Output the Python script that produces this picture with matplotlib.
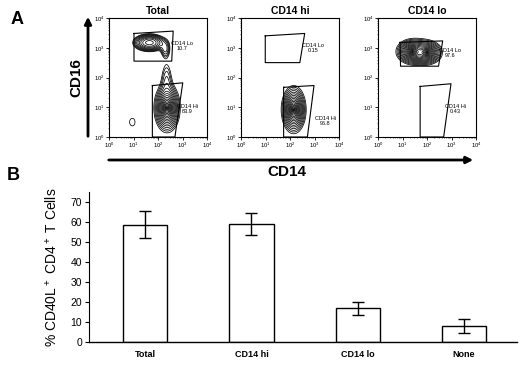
import numpy as np
import matplotlib
matplotlib.use('Agg')
import matplotlib.pyplot as plt

plt.rcParams['font.family'] = ['Liberation Sans', 'DejaVu Sans']
plt.rcParams['mathtext.fontset'] = 'custom'
plt.rcParams['mathtext.rm'] = 'Liberation Sans'
plt.rcParams['mathtext.default'] = 'regular'

# ---- panel A data (all positions in decades, log10 of fluorescence) ----
titles = ['Total', 'CD14 hi', 'CD14 lo']

# gates: CD14 Lo (upper) and CD14 Hi (lower)
lo_gate_x = [[1.02, 2.62, 2.56, 1.02], [0.99, 2.60, 2.40, 0.99], [0.90, 2.64, 2.47, 0.92]]
lo_gate_y = [[3.48, 3.56, 2.55, 2.55], [3.40, 3.48, 2.50, 2.50], [3.18, 3.23, 2.38, 2.38]]
hi_gate_x = [[1.77, 3.01, 2.69, 1.77], [1.74, 2.98, 2.71, 1.74], [1.72, 2.98, 2.68, 1.72]]
hi_gate_y = [[1.73, 1.82, 0.0, 0.0], [1.67, 1.73, 0.0, 0.0], [1.70, 1.79, 0.0, 0.0]]

lo_pct = ['10.7', '0.15', '97.6']
hi_pct = ['83.9', '96.8', '0.43']
lo_label_xy = [(2.98, 3.07), (2.95, 3.00), (2.95, 2.81)]
hi_label_xy = [(3.20, 0.93), (3.44, 0.55), (3.16, 0.93)]

# cell populations: centre x, centre y, spread x, spread y, weight, shape exponent
pop_total = [(2.37, 0.98, 0.09, 0.14, 2.0, 0.8),
             (2.35, 1.95, 0.20, 0.60, 0.05, 2.0),
             (1.65, 3.17, 0.45, 0.20, 0.30, 2.0),
             (2.30, 2.95, 0.17, 0.25, 0.08, 2.0),
             (0.95, 0.50, 0.30, 0.35, 0.034, 2.0)]
pop_hi = [(2.15, 0.92, 0.085, 0.135, 2.0, 0.8)]
pop_lo = [(1.40, 2.87, 0.11, 0.07, 2.0, 0.8),
          (2.00, 2.84, 0.11, 0.07, 1.6, 0.8)]
populations = [pop_total, pop_hi, pop_lo]

# ---- panel B data ----
categories = ['Total', 'CD14 hi', 'CD14 lo', 'None']
means = [58.7, 59.0, 16.8, 8.1]
errors = [6.7, 5.3, 3.3, 3.4]

fig = plt.figure(figsize=(5.2, 3.69), dpi=100)

lefts = [109, 241, 378]
gx, gy = np.meshgrid(np.linspace(0, 4, 500), np.linspace(0, 4, 500))
levels = np.geomspace(0.03, 3, 20)
for i in range(3):
    ax = fig.add_axes([lefts[i] / 520, 1 - 137 / 369, 98 / 520, 119 / 369])
    z = np.zeros_like(gx)
    for cx, cy, sx, sy, w, p in populations[i]:
        d = np.sqrt(((gx - cx) / sx) ** 2 + ((gy - cy) / sy) ** 2)
        z += w * np.exp(-d ** p)
    ax.contour(10 ** gx, 10 ** gy, z, levels=levels, colors='black', linewidths=0.55)
    ax.plot(10 ** np.array(lo_gate_x[i] + lo_gate_x[i][:1]),
            10 ** np.array(lo_gate_y[i] + lo_gate_y[i][:1]), color='black', lw=0.8)
    ax.plot(10 ** np.array(hi_gate_x[i] + hi_gate_x[i][:1]),
            10 ** np.array(hi_gate_y[i] + hi_gate_y[i][:1]), color='black', lw=0.8)
    ax.text(10 ** lo_label_xy[i][0], 10 ** lo_label_xy[i][1], 'CD14 Lo\n' + lo_pct[i],
            fontsize=4, ha='center', va='center', linespacing=1.0)
    ax.text(10 ** hi_label_xy[i][0], 10 ** hi_label_xy[i][1], 'CD14 Hi\n' + hi_pct[i],
            fontsize=4, ha='center', va='center', linespacing=1.0)
    ax.set_xscale('log')
    ax.set_yscale('log')
    ax.set_xlim(1, 1e4)
    ax.set_ylim(1, 1e4)
    ax.tick_params(which='major', labelsize=4.2, length=2, width=0.6, pad=1)
    ax.tick_params(which='minor', length=1, width=0.4)
    for s in ax.spines.values():
        s.set_linewidth(0.8)
    ax.set_title(titles[i], fontsize=7.5, fontweight='bold', pad=3)

# axis arrows and labels
fig.add_artist(matplotlib.patches.FancyArrowPatch((88 / 520, 1 - 139 / 369), (88 / 520, 1 - 14 / 369),
               transform=fig.transFigure, arrowstyle='-|>,head_length=4,head_width=2', lw=2, color='black'))
fig.add_artist(matplotlib.patches.FancyArrowPatch((106 / 520, 1 - 160 / 369), (476 / 520, 1 - 160 / 369),
               transform=fig.transFigure, arrowstyle='-|>,head_length=4,head_width=2', lw=2, color='black'))
fig.text(76 / 520, 1 - 78 / 369, 'CD16', rotation=90, fontsize=11, fontweight='bold', ha='center', va='center')
fig.text(287 / 520, 1 - 172 / 369, 'CD14', fontsize=11, fontweight='bold', ha='center', va='center')
fig.text(17 / 520, 1 - 20 / 369, 'A', fontsize=13, fontweight='bold', ha='center', va='center')
fig.text(13 / 520, 1 - 175 / 369, 'B', fontsize=13, fontweight='bold', ha='center', va='center')

# ---- panel B ----
bx = fig.add_axes([89 / 520, 1 - 342 / 369, 428 / 520, 150 / 369])
pos = np.arange(len(categories))
bx.bar(pos, means, width=0.415, color='white', edgecolor='black', linewidth=1.0,
       yerr=errors, capsize=4.5, error_kw=dict(elinewidth=1.0, capthick=1.0))
bx.set_xlim(-0.53, 3.5)
bx.set_ylim(0, 75)
bx.set_yticks(range(0, 80, 10))
bx.set_xticks(pos)
bx.set_xticklabels(categories, fontsize=6.5, fontweight='bold')
bx.tick_params(axis='x', length=0, pad=6)
bx.tick_params(axis='y', labelsize=7.5, length=3, width=0.8, pad=2)
bx.spines['top'].set_visible(False)
bx.spines['right'].set_visible(False)
bx.spines['left'].set_linewidth(0.8)
bx.spines['bottom'].set_linewidth(1.0)
bx.set_ylabel('% CD40L$^+$ CD4$^+$ T Cells', fontsize=10, labelpad=8)

fig.savefig('out.png', dpi=100)
